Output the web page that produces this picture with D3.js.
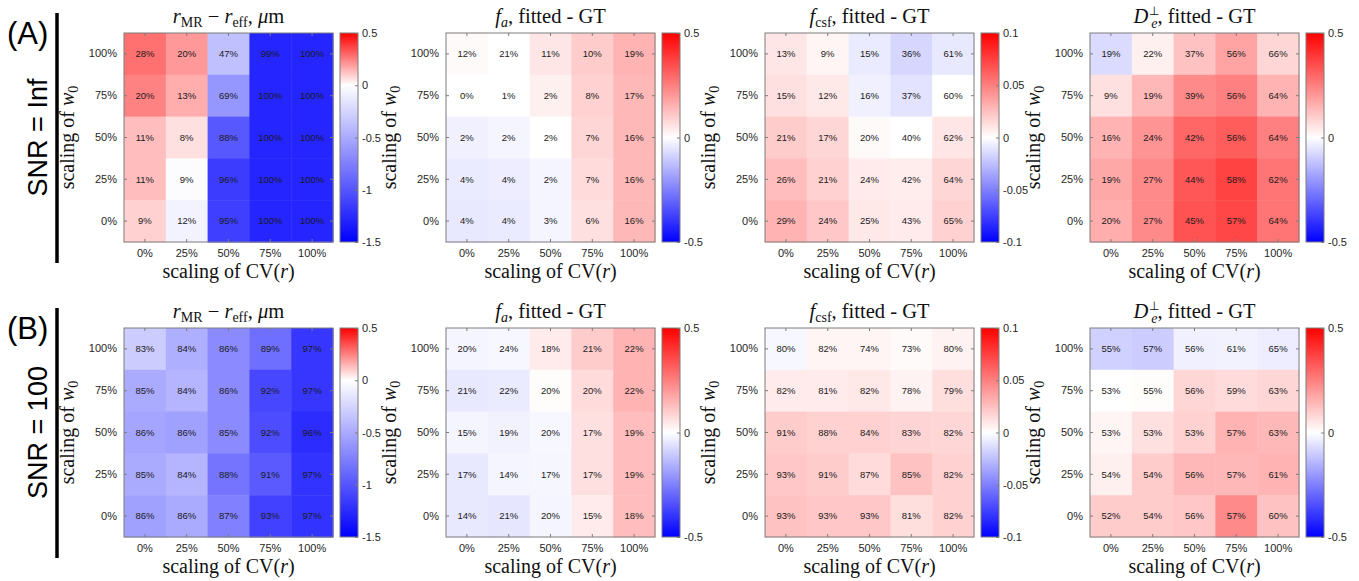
<!DOCTYPE html>
<html>
<head>
<meta charset="utf-8">
<script src="https://cdn.jsdelivr.net/npm/d3@7"></script>
<style>
body { margin: 0; background: #fff; }
svg text { font-family: "Liberation Sans", Arial, Helvetica, sans-serif; }
svg text.serif { font-family: "Liberation Serif", "Times New Roman", serif; }
</style>
</head>
<body>
<svg id="chart" width="1359" height="581"></svg>
<script>
//categories
var cvLabels = ["0%", "25%", "50%", "75%", "100%"];          // x, scaling of CV(r)
var w0Labels = ["100%", "75%", "50%", "25%", "0%"];          // y, top to bottom
var rowNames = ["(A)", "(B)"];
var snrNames = ["SNR = Inf", "SNR = 100"];

//colour limits and colourbar ticks per parameter
var rDomain = [-1.5, 0, 0.5];
var faDomain = [-0.5, 0, 0.5];
var fcsfDomain = [-0.1, 0, 0.1];
var deDomain = [-0.5, 0, 0.5];
var rTicks = [-1.5, -1, -0.5, 0, 0.5];
var faTicks = [-0.5, 0, 0.5];
var fcsfTicks = [-0.1, -0.05, 0, 0.05, 0.1];
var deTicks = [-0.5, 0, 0.5];

//----- SNR = Inf -----
//mean (fitted - GT)
var rA_val = [
  [0.28, 0.20, -0.37, -1.28, -1.28],
  [0.245, 0.16, -0.62, -1.28, -1.28],
  [0.13, 0.06, -0.98, -1.28, -1.28],
  [0.13, -0.02, -1.15, -1.28, -1.28],
  [0.09, -0.07, -1.13, -1.28, -1.28]
];
var faA_val = [
  [0.01, 0.0, 0.05, 0.10, 0.15],
  [0.0, 0.0, 0.03, 0.09, 0.14],
  [-0.03, -0.02, 0.0, 0.08, 0.14],
  [-0.04, -0.035, -0.02, 0.07, 0.14],
  [-0.045, -0.04, -0.02, 0.06, 0.14]
];
var fcsfA_val = [
  [0.010, 0.004, -0.008, -0.016, -0.009],
  [0.012, 0.009, -0.006, -0.011, 0.0],
  [0.020, 0.016, 0.002, 0.0, 0.010],
  [0.026, 0.018, 0.008, 0.007, 0.016],
  [0.030, 0.022, 0.009, 0.008, 0.018]
];
var deA_val = [
  [-0.07, 0.03, 0.12, 0.18, 0.08],
  [0.06, 0.14, 0.23, 0.25, 0.15],
  [0.15, 0.21, 0.30, 0.32, 0.25],
  [0.17, 0.23, 0.33, 0.37, 0.27],
  [0.16, 0.23, 0.34, 0.36, 0.27]
];
//printed percentages
var rA_pct = [[28, 20, 47, 99, 100], [20, 13, 69, 100, 100], [11, 8, 88, 100, 100], [11, 9, 96, 100, 100], [9, 12, 95, 100, 100]];
var faA_pct = [[12, 21, 11, 10, 19], [0, 1, 2, 8, 17], [2, 2, 2, 7, 16], [4, 4, 2, 7, 16], [4, 4, 3, 6, 16]];
var fcsfA_pct = [[13, 9, 15, 36, 61], [15, 12, 16, 37, 60], [21, 17, 20, 40, 62], [26, 21, 24, 42, 64], [29, 24, 25, 43, 65]];
var deA_pct = [[19, 22, 37, 56, 66], [9, 19, 39, 56, 64], [16, 24, 42, 56, 64], [19, 27, 44, 58, 62], [20, 27, 45, 57, 64]];

//----- SNR = 100 -----
var rB_val = [
  [-0.30, -0.47, -0.68, -0.85, -1.18],
  [-0.50, -0.44, -0.68, -1.08, -1.18],
  [-0.53, -0.56, -0.68, -1.05, -1.24],
  [-0.50, -0.44, -0.82, -0.97, -1.20],
  [-0.56, -0.50, -0.74, -1.12, -1.20]
];
var faB_val = [
  [-0.02, -0.015, 0.04, 0.10, 0.15],
  [-0.045, -0.04, 0.005, 0.07, 0.15],
  [-0.02, -0.025, -0.015, 0.06, 0.13],
  [-0.045, -0.02, -0.018, 0.06, 0.13],
  [-0.045, -0.05, -0.02, 0.04, 0.13]
];
var fcsfB_val = [
  [-0.003, 0.004, 0.004, 0.002, 0.005],
  [0.008, 0.008, 0.009, 0.005, 0.013],
  [0.020, 0.018, 0.018, 0.017, 0.016],
  [0.022, 0.020, 0.014, 0.024, 0.018],
  [0.024, 0.022, 0.022, 0.013, 0.018]
];
var deB_val = [
  [-0.09, -0.10, -0.03, -0.025, -0.035],
  [0.0, 0.005, 0.08, 0.07, 0.08],
  [0.02, 0.06, 0.09, 0.15, 0.14],
  [0.03, 0.10, 0.14, 0.14, 0.15],
  [0.10, 0.10, 0.11, 0.23, 0.12]
];
var rB_pct = [[83, 84, 86, 89, 97], [85, 84, 86, 92, 97], [86, 86, 85, 92, 96], [85, 84, 88, 91, 97], [86, 86, 87, 93, 97]];
var faB_pct = [[20, 24, 18, 21, 22], [21, 22, 20, 20, 22], [15, 19, 20, 17, 19], [17, 14, 17, 17, 19], [14, 21, 20, 15, 18]];
var fcsfB_pct = [[80, 82, 74, 73, 80], [82, 81, 82, 78, 79], [91, 88, 84, 83, 82], [93, 91, 87, 85, 82], [93, 93, 93, 81, 82]];
var deB_pct = [[55, 57, 56, 61, 65], [53, 55, 56, 59, 63], [53, 53, 53, 57, 63], [54, 54, 56, 57, 61], [52, 54, 56, 57, 60]];

//-----------------------------------------------------------------
//layout
var colLeft = [124, 446, 765, 1090];
var rowTop = [33, 328];
var size = 209;
var cbGap = 7, cbWidth = 18;
var frameColor = "#7c7c7c";

var rows = [
  [
    {val: rA_val, pct: rA_pct, domain: rDomain, ticks: rTicks, title: "r"},
    {val: faA_val, pct: faA_pct, domain: faDomain, ticks: faTicks, title: "fa"},
    {val: fcsfA_val, pct: fcsfA_pct, domain: fcsfDomain, ticks: fcsfTicks, title: "fcsf"},
    {val: deA_val, pct: deA_pct, domain: deDomain, ticks: deTicks, title: "de"}
  ],
  [
    {val: rB_val, pct: rB_pct, domain: rDomain, ticks: rTicks, title: "r"},
    {val: faB_val, pct: faB_pct, domain: faDomain, ticks: faTicks, title: "fa"},
    {val: fcsfB_val, pct: fcsfB_pct, domain: fcsfDomain, ticks: fcsfTicks, title: "fcsf"},
    {val: deB_val, pct: deB_pct, domain: deDomain, ticks: deTicks, title: "de"}
  ]
];

var svg = d3.select("#chart");
var defs = svg.append("defs");

function cbFormat(d) {
  return String(d);
}

//the LaTeX-ish titles, written as tspans
function writeTitle(t, kind) {
  if (kind == "r") {
    t.append("tspan").attr("font-style", "italic").text("r");
    t.append("tspan").attr("font-size", 14).attr("dy", 4).text("MR");
    t.append("tspan").attr("dy", -4).text(" \u2212 ");
    t.append("tspan").attr("font-style", "italic").text("r");
    t.append("tspan").attr("font-size", 14).attr("dy", 4).text("eff");
    t.append("tspan").attr("dy", -4).text(",  ");
    t.append("tspan").attr("font-style", "italic").text("\u03bc");
    t.append("tspan").text("m");
  } else if (kind == "fa") {
    t.append("tspan").attr("font-style", "italic").text("f");
    t.append("tspan").attr("font-style", "italic").attr("font-size", 14).attr("dy", 4).text("a");
    t.append("tspan").attr("dy", -4).text(", fitted - GT");
  } else if (kind == "fcsf") {
    t.append("tspan").attr("font-style", "italic").text("f");
    t.append("tspan").attr("font-size", 14).attr("dy", 4).text("csf");
    t.append("tspan").attr("dy", -4).text(", fitted - GT");
  } else {
    t.append("tspan").attr("font-style", "italic").text("D");
    t.append("tspan").attr("font-size", 12).attr("dy", -8).attr("dx", 1).text("\u22a5");
    t.append("tspan").attr("font-style", "italic").attr("font-size", 14).attr("dy", 13).attr("dx", -8).text("e");
    t.append("tspan").attr("dy", -5).text(", fitted - GT");
  }
}

function drawPanel(g, p, id) {
  var x = d3.scaleBand().domain(cvLabels).range([0, size]);
  var y = d3.scaleBand().domain(w0Labels).range([0, size]);
  var color = d3.scaleLinear().domain(p.domain).range(["#0000ff", "#ffffff", "#ff0000"]);

  //flatten the grid
  var cells = [];
  p.val.forEach(function(row, i) {
    row.forEach(function(v, j) {
      cells.push({cv: cvLabels[j], w0: w0Labels[i], v: v, pct: p.pct[i][j]});
    });
  });

  g.selectAll("rect.cell")
    .data(cells)
    .enter()
    .append("rect")
    .attr("class", "cell")
    .attr("x", function(d) { return x(d.cv); })
    .attr("y", function(d) { return y(d.w0); })
    .attr("width", x.bandwidth() + 0.5)
    .attr("height", y.bandwidth() + 0.5)
    .attr("fill", function(d) { return color(d.v); });

  g.selectAll("text.pct")
    .data(cells)
    .enter()
    .append("text")
    .attr("class", "pct")
    .attr("x", function(d) { return x(d.cv) + x.bandwidth() / 2; })
    .attr("y", function(d) { return y(d.w0) + y.bandwidth() / 2; })
    .attr("dy", "0.35em")
    .attr("text-anchor", "middle")
    .attr("font-size", 9.5)
    .attr("fill", "#1a1a1a")
    .text(function(d) { return d.pct + "%"; });

  //axes, MATLAB style: ticks inside, box on
  var xAxis = g.append("g").attr("transform", "translate(0," + size + ")")
    .call(d3.axisBottom(x).tickSizeInner(-3).tickSizeOuter(0).tickPadding(7));
  var yAxis = g.append("g")
    .call(d3.axisLeft(y).tickSizeInner(-3).tickSizeOuter(0).tickPadding(7));
  var xTop = g.append("g").call(d3.axisTop(x).tickSizeInner(-3).tickSizeOuter(0).tickFormat(""));
  var yRight = g.append("g").attr("transform", "translate(" + size + ",0)")
    .call(d3.axisRight(y).tickSizeInner(-3).tickSizeOuter(0).tickFormat(""));
  [xAxis, yAxis, xTop, yRight].forEach(function(a) {
    a.select(".domain").remove();
    a.selectAll("line").attr("stroke", frameColor);
    a.selectAll("text").attr("font-size", 11).attr("fill", "#262626")
      .style("font-family", '"Liberation Sans", Arial, sans-serif');
  });

  g.append("rect")
    .attr("width", size).attr("height", size)
    .attr("fill", "none").attr("stroke", frameColor).attr("stroke-width", 1);

  //title
  var t = g.append("text").attr("class", "serif")
    .attr("x", size / 2).attr("y", -10)
    .attr("text-anchor", "middle")
    .attr("font-size", 20.5)
    .attr("fill", "#111");
  writeTitle(t, p.title);

  //x label
  var xl = g.append("text").attr("class", "serif")
    .attr("x", size / 2).attr("y", size + 36)
    .attr("text-anchor", "middle")
    .attr("font-size", 20)
    .attr("fill", "#111");
  xl.append("tspan").text("scaling of CV(");
  xl.append("tspan").attr("font-style", "italic").text("r");
  xl.append("tspan").text(")");

  //y label
  var yl = g.append("text").attr("class", "serif")
    .attr("transform", "translate(-50," + size / 2 + ") rotate(-90)")
    .attr("text-anchor", "middle")
    .attr("font-size", 20)
    .attr("fill", "#111");
  yl.append("tspan").text("scaling of ");
  yl.append("tspan").attr("font-style", "italic").text("w");
  yl.append("tspan").attr("font-size", 14).attr("dy", 4).text("0");

  //colourbar
  var cbScale = d3.scaleLinear().domain([p.domain[0], p.domain[2]]).range([size, 0]);
  var grad = defs.append("linearGradient")
    .attr("id", "cb" + id)
    .attr("x1", 0).attr("y1", 1).attr("x2", 0).attr("y2", 0);
  grad.selectAll("stop")
    .data(p.domain)
    .enter()
    .append("stop")
    .attr("offset", function(d) { return (d - p.domain[0]) / (p.domain[2] - p.domain[0]); })
    .attr("stop-color", function(d) { return color(d); });

  var cb = g.append("g").attr("transform", "translate(" + (size + cbGap) + ",0)");
  cb.append("rect")
    .attr("width", cbWidth).attr("height", size)
    .attr("fill", "url(#cb" + id + ")")
    .attr("stroke", frameColor).attr("stroke-width", 1);
  var cbAxis = cb.append("g").attr("transform", "translate(" + cbWidth + ",0)")
    .call(d3.axisRight(cbScale).tickValues(p.ticks).tickFormat(cbFormat)
      .tickSizeInner(-3).tickSizeOuter(0).tickPadding(4));
  cbAxis.select(".domain").remove();
  cbAxis.selectAll("line").attr("stroke", frameColor);
  cbAxis.selectAll("text").attr("font-size", 11).attr("fill", "#262626")
    .style("font-family", '"Liberation Sans", Arial, sans-serif');
}

rows.forEach(function(panels, r) {
  panels.forEach(function(p, c) {
    var g = svg.append("g").attr("transform", "translate(" + colLeft[c] + "," + rowTop[r] + ")");
    drawPanel(g, p, r + "_" + c);
  });

  //row label, SNR text and the black bar
  var top = rowTop[r];
  svg.append("text")
    .attr("x", 7).attr("y", top + 11)
    .attr("font-size", 31)
    .attr("fill", "#000")
    .text(rowNames[r]);
  svg.append("text")
    .attr("transform", "translate(47," + (top + size / 2) + ") rotate(-90)")
    .attr("text-anchor", "middle")
    .attr("font-size", 27)
    .attr("fill", "#000")
    .text(snrNames[r]);
  svg.append("line")
    .attr("x1", 57).attr("x2", 57)
    .attr("y1", top - 20).attr("y2", top + size + 21)
    .attr("stroke", "#000").attr("stroke-width", 3.5);
});
</script>
</body>
</html>
